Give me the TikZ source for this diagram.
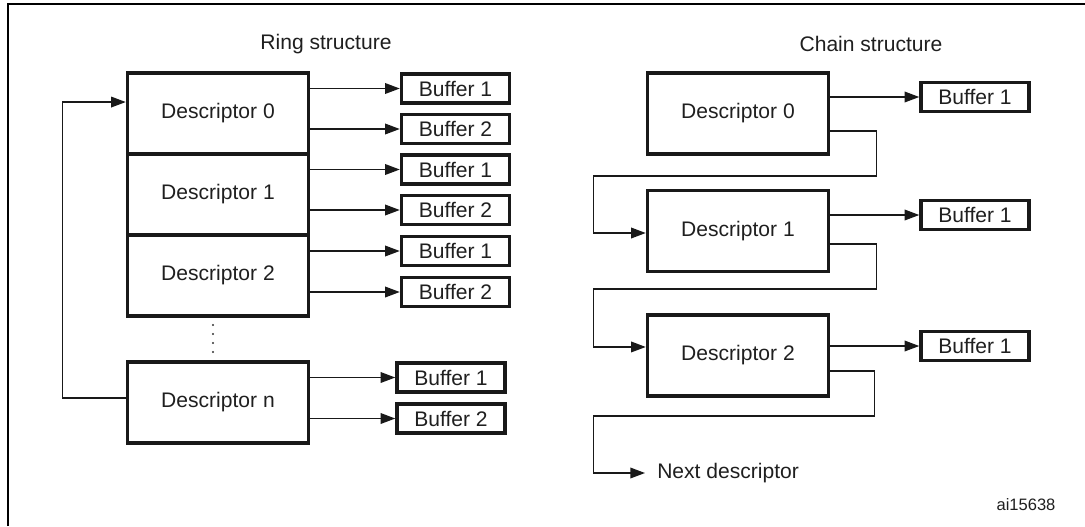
\documentclass[tikz,border=0pt]{standalone}
\usepackage{fontspec}
\setmainfont{Liberation Sans}
\usetikzlibrary{arrows.meta,calc}
\begin{document}
\begin{tikzpicture}[x=0.75pt,y=-0.75pt,
  txt/.style={font=\fontsize{15.8pt}{18pt}\selectfont, text=black!88},
  desc/.style={txt, draw=black!90, line width=2.6pt, minimum width=135.75pt, minimum height=60.75pt, inner sep=0pt},
  buf/.style={txt, draw=black!90, line width=2.6pt, minimum width=81pt, minimum height=21.75pt, inner sep=0pt},
  conn/.style={line width=1pt, draw=black!90},
  arr/.style={conn, -{Triangle[length=11pt,width=8pt]}},
  framel/.style={line width=1.6pt}]
\useasboundingbox (0,0) rectangle (1085,526);
% frame
\draw[framel] (8,526) -- (8,4) -- (1085,4);
% titles
\node[txt] (rt) at (326,44) {Ring structure};
\node[txt] (ct) at (871,44) {Chain structure};
% ring structure
\node[desc] (d0) at (218,113.5) {Descriptor 0};
\node[desc] (d1) at (218,194.5) {Descriptor 1};
\node[desc] (d2) at (218,275.5) {Descriptor 2};
\node[desc] (dn) at (218,402.5) {Descriptor n};
\node[buf] (b01) at (455.5,88.5) {Buffer 1};
\node[buf] (b02) at (455.5,129) {Buffer 2};
\node[buf] (b11) at (455.5,169.5) {Buffer 1};
\node[buf] (b12) at (455.5,210) {Buffer 2};
\node[buf] (b21) at (455.5,251) {Buffer 1};
\node[buf] (b22) at (455.5,292) {Buffer 2};
\node[buf] (bn1) at (451,377.5) {Buffer 1};
\node[buf] (bn2) at (451,418.5) {Buffer 2};
\foreach \d/\b in {d0/b01,d0/b02,d1/b11,d1/b12,d2/b21,d2/b22,dn/bn1,dn/bn2}
  \draw[arr] (\b.west -| \d.east) -- (\b.west);
\draw[arr] ([yshift=3.4pt]dn.west) -- ++(-63,0) |- ([yshift=8.6pt]d0.west);
\foreach \y in {325,334,343,352} \fill[black!80] (213,\y) circle (0.8pt);
% chain structure
\node[desc] (c0) at (738,113.5) {Descriptor 0};
\node[desc] (c1) at (738,231) {Descriptor 1};
\node[desc] (c2) at (738,355.5) {Descriptor 2};
\node[buf] (cb0) at (975,97) {Buffer 1};
\node[buf] (cb1) at (975,215) {Buffer 1};
\node[buf] (cb2) at (975,346) {Buffer 1};
\foreach \d/\b in {c0/cb0,c1/cb1,c2/cb2}
  \draw[arr] (\b.west -| \d.east) -- (\b.west);
\node[txt, anchor=west, inner xsep=0pt] (next) at (657,473) {Next descriptor};
\draw[arr] ([yshift=-13.1pt]c0.east) -- ++(46.5,0) -- ++(0,45) -- ++(-283,0) |- ([yshift=-1.5pt]c1.west);
\draw[arr] ([yshift=-9.75pt]c1.east) -- ++(46.5,0) -- ++(0,45) -- ++(-283,0) |- ([yshift=6.4pt]c2.west);
\draw[arr, shorten >=9pt] ([yshift=-11.6pt]c2.east) -- ++(44.5,0) -- ++(0,45) -- ++(-281,0) |- (next.west);
\node[font=\fontsize{12.4pt}{14pt}\selectfont, text=black!88] (id) at (1026,505) {ai15638};
\end{tikzpicture}
\end{document}
